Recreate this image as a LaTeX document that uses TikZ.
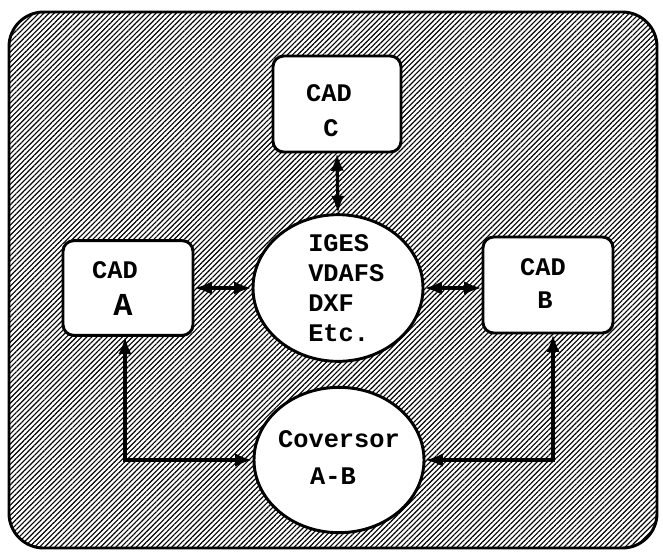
\documentclass[tikz,border=0pt]{standalone}
\usepackage{fontspec}
\newfontfamily\monofnt{Liberation Mono}
\usetikzlibrary{shapes.geometric,arrows.meta,patterns.meta}
\tikzset{
  cadbox/.style={draw, line width=2.2pt, rounded corners=8pt, fill=white, inner sep=0pt},
  fmtell/.style={ellipse, draw, line width=2.2pt, fill=white, inner sep=0pt, minimum width=127.5pt, minimum height=110pt},
  conn/.style={line width=2.4pt, {Latex[length=13pt,width=10pt]}-{Latex[length=13pt,width=10pt]}},
  txt/.style={font=\monofnt\bfseries\fontsize{19pt}{22pt}\selectfont, inner sep=0pt},
  bigtxt/.style={font=\monofnt\bfseries\fontsize{24pt}{26pt}\selectfont, inner sep=0pt}
}
\begin{document}
\begin{tikzpicture}[x=0.75pt,y=-0.75pt]
\useasboundingbox (0,0) rectangle (663,551);
% background panel
\draw[line width=2.2pt, rounded corners=26pt, fill=white,
  pattern={Lines[angle=45,distance=2.7pt,line width=0.85pt]}, pattern color=black]
  (9,12) rectangle (657,548);
% nodes
\node[cadbox, minimum width=96pt, minimum height=72pt] (C) at (337,104) {};
\node[cadbox, minimum width=97.5pt, minimum height=71pt] (A) at (128,288) {};
\node[cadbox, minimum width=97.5pt, minimum height=72pt] (B) at (548,285) {};
\node[fmtell] (F) at (338,288) {};
\node[fmtell, minimum height=109pt] (K) at (339,460) {};
% texts
\node[txt] (tC1) at (329,93) {CAD};
\node[txt] (tC2) at (331,128) {C};
\node[txt] (tA1) at (115,270) {CAD};
\node[bigtxt] (tA2) at (123,305) {A};
\node[txt] (tB1) at (543,267) {CAD};
\node[txt] (tB2) at (545,300) {B};
\node[txt, align=left, anchor=west, font=\monofnt\bfseries\fontsize{19pt}{22.5pt}\selectfont] (tF) at (308,288) {IGES\\VDAFS\\DXF\\Etc.};
\node[txt] (tK1) at (339,439) {Coversor};
\node[txt] (tK2) at (333,476) {A-B};
% connectors
\draw[conn] (C.south) -- (F.north);
\draw[conn] (A.east) -- (F.west);
\draw[conn] (F.east) -- (F.east -| B.west);
\draw[conn] ([xshift=-2.25pt]A.south) |- (K.west);
\draw[conn] ([xshift=3.75pt]B.south) |- (K.east);
\end{tikzpicture}
\end{document}
